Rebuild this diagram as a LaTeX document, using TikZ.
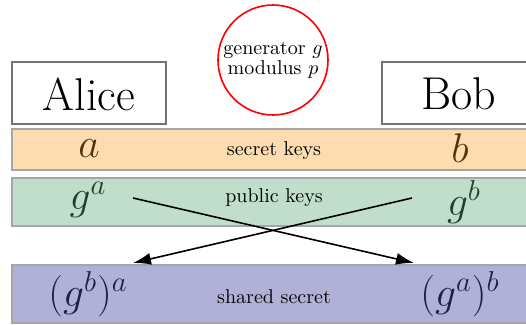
\documentclass[tikz,border=0pt]{standalone}
\usepackage{tikz}
\usetikzlibrary{arrows.meta}

\definecolor{keyorange}{RGB}{253,220,176}
\definecolor{keygreen}{RGB}{193,221,203}
\definecolor{keypurple}{RGB}{177,177,216}
\definecolor{orangetext}{RGB}{80,52,12}
\definecolor{greentext}{RGB}{28,66,42}
\definecolor{purpletext}{RGB}{30,30,78}

\begin{document}
\begin{tikzpicture}
[x=0.5pt,y=-0.5pt,
 personbox/.style={draw=black!55,thick,fill=white},
 band/.style={draw=black!35,thick},
 bandlabel/.style={black},
 bigmath/.style={font=\huge},
 swaparrow/.style={-{Latex[length=9pt,width=6pt]},black,thick}]

\useasboundingbox (0,0) rectangle (526,325);
\clip (0,0) rectangle (526,325);

% parameters
\node[draw=red,thick,circle,minimum size=55pt,align=center,inner sep=0pt](params) at (273,60){generator $g$\\[-2pt]modulus $p$};

% Alice and Bob
\draw[personbox] (12,62) rectangle (166,124);
\node[font=\fontsize{23}{28}\selectfont](alice) at (89,94){Alice};
\draw[personbox] (382,62) rectangle (540,124);
\node[font=\fontsize{23}{28}\selectfont](bob) at (459,94){Bob};

% secret keys
\draw[band,fill=keyorange] (12,129) rectangle (540,170);
\node[bandlabel](secret) at (274,151){secret keys};
\node[bigmath,text=orangetext](a) at (89,149){$a$};
\node[bigmath,text=orangetext](b) at (460,148){$b$};

% public keys
\draw[band,fill=keygreen] (12,178) rectangle (540,226);
\node[bandlabel](public) at (274,198){public keys};
\node[bigmath,text=greentext](ga) at (88,200){$g^a$};
\node[bigmath,text=greentext](gb) at (464,202){$g^b$};

% shared secret
\draw[band,fill=keypurple] (12,265) rectangle (540,323);
\node[bandlabel](shared) at (274,297){shared secret};
\node[bigmath,text=purpletext](gba) at (88,294){$(g^b)^a$};
\node[bigmath,text=purpletext](gab) at (460,294){$(g^a)^b$};

% exchange
\coordinate (ga out) at (133,198);
\coordinate (gb out) at (412,198);
\coordinate (gab in) at (414,263);
\coordinate (gba in) at (133,263);
\draw[swaparrow] (ga out) -- (gab in);
\draw[swaparrow] (gb out) -- (gba in);

\end{tikzpicture}
\end{document}
